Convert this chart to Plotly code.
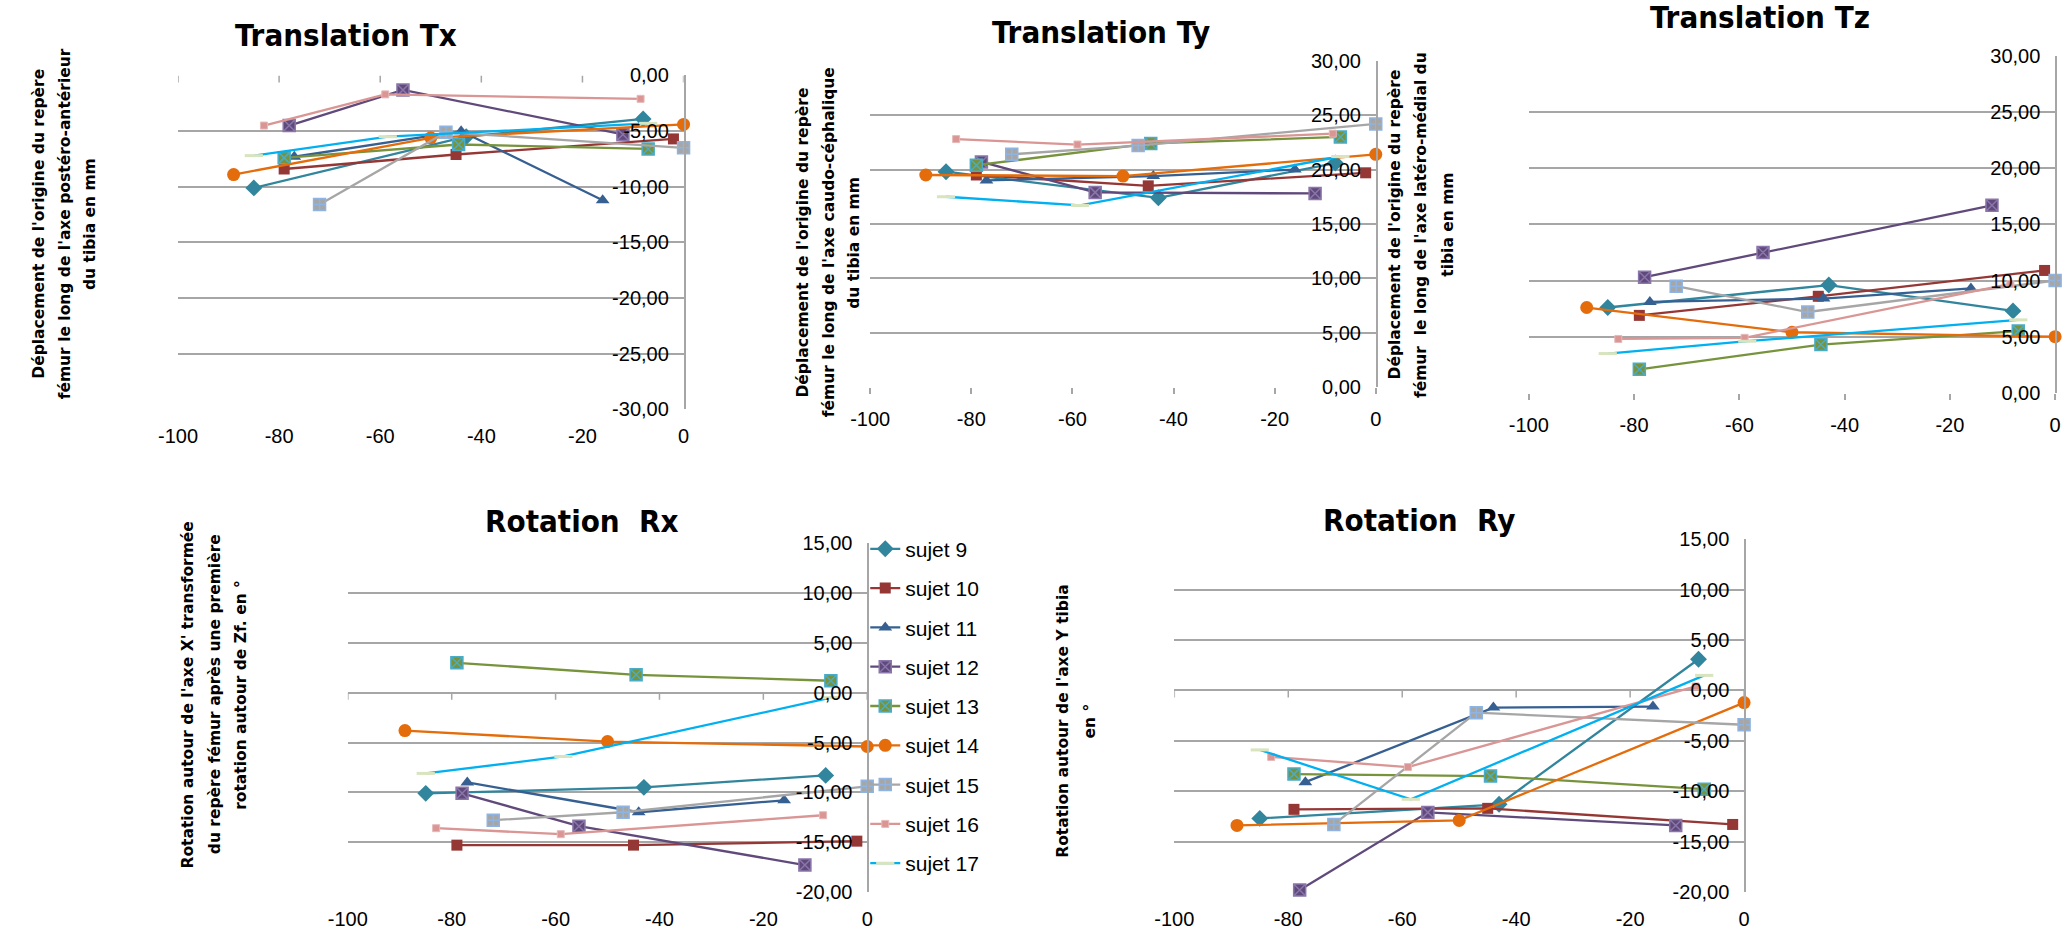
import plotly.graph_objects as go

# ---------------- data ----------------
subjects = ["sujet 9", "sujet 10", "sujet 11", "sujet 12", "sujet 13",
            "sujet 14", "sujet 15", "sujet 16", "sujet 17"]

# flexion angle (x) of the three measurements for each subject
x_s9 = [-85, -43, -8]
x_s10 = [-79, -45, -2]
x_s11 = [-77, -44, -16]
x_s12 = [-78, -55.5, -12]
x_s13 = [-79, -44.5, -7]
x_s14 = [-89, -50, 0]
x_s15 = [-72, -47, 0]
x_s16 = [-83, -59, -8.5]
x_s17 = [-85, -58.5, -7]
x_values = [x_s9, x_s10, x_s11, x_s12, x_s13, x_s14, x_s15, x_s16, x_s17]

tx_values = [[-10.1, -5.5, -3.9], [-8.4, -7.1, -5.7], [-7.3, -5.0, -11.2],
             [-4.5, -1.3, -5.3], [-7.4, -6.2, -6.6], [-8.9, -5.6, -4.4],
             [-11.6, -5.1, -6.5], [-4.5, -1.7, -2.1], [-7.2, -5.5, -4.3]]
ty_values = [[19.8, 17.4, 20.6], [19.5, 18.5, 19.7], [19.0, 19.4, 20.0],
             [20.7, 17.9, 17.8], [20.4, 22.4, 23.0], [19.5, 19.4, 21.4],
             [21.4, 22.2, 24.2], [22.8, 22.3, 23.3], [17.5, 16.7, 21.2]]
tz_values = [[7.6, 9.6, 7.3], [6.9, 8.6, 10.9], [8.1, 8.4, 9.3],
             [10.3, 12.5, 16.7], [2.1, 4.3, 5.5], [7.6, 5.4, 5.0],
             [9.5, 7.2, 10.0], [4.8, 4.9, 9.7], [3.5, 4.6, 6.5]]
rx_values = [[-10.1, -9.5, -8.3], [-15.3, -15.3, -14.9], [-9.0, -12.0, -10.8],
             [-10.1, -13.4, -17.3], [3.0, 1.8, 1.2], [-3.8, -4.9, -5.4],
             [-12.8, -12.0, -9.4], [-13.6, -14.2, -12.3], [-8.1, -6.4, -0.5]]
ry_values = [[-12.7, -11.3, 3.1], [-11.8, -11.7, -13.3], [-9.1, -1.7, -1.6],
             [-19.8, -12.1, -13.4], [-8.3, -8.5, -9.8], [-13.4, -12.9, -1.2],
             [-13.3, -2.2, -3.4], [-6.6, -7.6, 0.4], [-5.9, -10.8, 1.5]]

x_ticks = [-100, -80, -60, -40, -20, 0]
t_neg_ticks = [0, -5, -10, -15, -20, -25, -30]
t_pos_ticks = [0, 5, 10, 15, 20, 25, 30]
r_ticks = [15, 10, 5, 0, -5, -10, -15, -20]

# ---------------- styles ----------------
colors = ["#31859C", "#953735", "#376092", "#604A7B", "#77933C",
          "#E46C0A", "#A6A6A6", "#D99694", "#00B0F0"]
symbols = ["diamond", "square", "triangle-up", "square-x", "square-x",
           "circle", "square-cross", "square", "line-ew"]
sizes = [13, 11, 12, 12, 12, 13, 12, 7, 13]
mline_colors = ["#31859C", "#953735", "#376092", "#8A76AA", "#4BACC6",
                "#E46C0A", "#8EB4E3", "#E6B9B8", "#D7E4BD"]
mline_widths = [0, 0, 0, 1.5, 1.5, 0, 1.5, 1, 3]

W, H = 2071, 943
def fx(px):
    return px / W
def fy(py):
    return 1 - py / H

TICK_FONT = dict(family="Liberation Sans, Arial, sans-serif", size=20, color="#000000")
TITLE_FONT = dict(family="Liberation Sans Narrow, DejaVu Sans Condensed, Liberation Sans, sans-serif",
                  size=31, color="#000000")
AX_FONT = dict(family="DejaVu Sans, Verdana, sans-serif", size=15.5, color="#000000")
GRID = "#A6A6A6"

def fmt(v):
    return ("%.2f" % v).replace(".", ",")

panels = [
    # name, data, x px domain, y px domain (top, bottom), y range, y ticks, x axis drawn at zero
    ("Tx", tx_values, (160, 672), (66, 408), [-30, 0], t_neg_ticks, True),
    ("Ty", ty_values, (861, 1373), (51, 385), [0, 30], t_pos_ticks, False),
    ("Tz", tz_values, (1528, 2061), (46, 391), [0, 30], t_pos_ticks, False),
    ("Rx", rx_values, (332, 858), (545, 902), [-20, 15], r_ticks, True),
    ("Ry", ry_values, (1169, 1746), (541, 902), [-20, 15], r_ticks, True),
]

fig = go.Figure()
shapes = []
layout_axes = {}

for i, (name, vals, (xl, xr), (yt, yb), yr, yt_vals, zero_axis) in enumerate(panels):
    n = i + 1
    xa = "x" if n == 1 else "x%d" % n
    ya = "y" if n == 1 else "y%d" % n
    for s in range(len(subjects)):
        fig.add_trace(go.Scatter(
            x=x_values[s], y=vals[s], xaxis=xa, yaxis=ya,
            mode="lines+markers", name=subjects[s], legendgroup=subjects[s],
            showlegend=(n == 4), cliponaxis=False,
            line=dict(color=colors[s], width=2.3),
            marker=dict(symbol=symbols[s], size=sizes[s], color=colors[s],
                        line=dict(color=mline_colors[s], width=mline_widths[s])),
        ))
    xkey = "xaxis" if n == 1 else "xaxis%d" % n
    ykey = "yaxis" if n == 1 else "yaxis%d" % n
    layout_axes[xkey] = dict(
        domain=[fx(xl), fx(xr)], range=[-100, 0], anchor=ya,
        tickvals=x_ticks, ticktext=[str(v) for v in x_ticks], tickfont=TICK_FONT,
        showgrid=False, zeroline=False, showline=False,
        ticks="" if zero_axis else "outside", ticklen=6, tickcolor=GRID, tickwidth=1.5,
        ticklabelstandoff=8 if not zero_axis else 13,
        ticklabeloverflow="allow",
    )
    layout_axes[ykey] = dict(
        domain=[fy(yb), fy(yt)], range=yr, anchor=xa, side="right",
        ticklabelposition="inside", tickvals=yt_vals, ticktext=[fmt(v) for v in yt_vals],
        tickfont=TICK_FONT, showgrid=True, gridcolor=GRID, gridwidth=1.5,
        zeroline=False, showline=True, linecolor=GRID, linewidth=1.5, ticks="",
        ticklabelstandoff=16, ticklabeloverflow="allow",
    )
    if zero_axis:
        for v in x_ticks:
            shapes.append(dict(type="line", xref=xa, yref=ya, x0=v, x1=v,
                               ysizemode="pixel", yanchor=0, y0=0, y1=-7,
                               line=dict(color=GRID, width=1.5)))

annotations = []
def title(text, px, py):
    annotations.append(dict(text="<b>%s</b>" % text, x=fx(px), y=fy(py), xref="paper", yref="paper",
                            showarrow=False, xanchor="center", yanchor="middle", font=TITLE_FONT))

title("Translation Tx", 330, 25)
title("Translation Ty", 1095, 21)
title("Translation Tz", 1762, 6)
title("Rotation  Rx", 569, 522)
title("Rotation  Ry", 1417, 521)

def ytitle(lines, xs, py):
    for line, px in zip(lines, xs):
        annotations.append(dict(text="<b>%s</b>" % line, x=fx(px), y=fy(py), xref="paper", yref="paper",
                                showarrow=False, xanchor="center", yanchor="middle",
                                textangle=-90, font=AX_FONT))

ytitle(["Déplacement de l'origine du repère",
        "fémur le long de l'axe postéro-antérieur",
        "du tibia en mm"], [19, 45, 71], 218)
ytitle(["Déplacement de l'origine du repère",
        "fémur le long de l'axe caudo-céphalique",
        "du tibia en mm"], [793, 820, 845], 237)
ytitle(["Déplacement de l'origine du repère",
        "fémur  le long de l'axe latéro-médial du",
        "tibia en mm"], [1392, 1419, 1446], 219)
ytitle(["Rotation autour de l'axe X' transformée",
        "du repère fémur après une première",
        "rotation autour de Zf. en °"], [170, 197, 223], 700)
ytitle(["Rotation autour de l'axe Y tibia",
        "en °"], [1056, 1084], 727)

fig.update_layout(
    width=W, height=H, margin=dict(l=0, r=0, t=0, b=0),
    paper_bgcolor="white", plot_bgcolor="white",
    showlegend=True,
    legend=dict(x=fx(856), y=fy(530), xanchor="left", yanchor="top",
                font=dict(family="Liberation Sans, Arial, sans-serif", size=21, color="#000000"),
                traceorder="grouped", tracegroupgap=9, bgcolor="rgba(0,0,0,0)"),
    shapes=shapes, annotations=annotations,
    **layout_axes,
)

fig.write_html("out.html", config={"displayModeBar": False},
               post_script="document.body.style.margin='0px';document.body.style.overflow='hidden';")
